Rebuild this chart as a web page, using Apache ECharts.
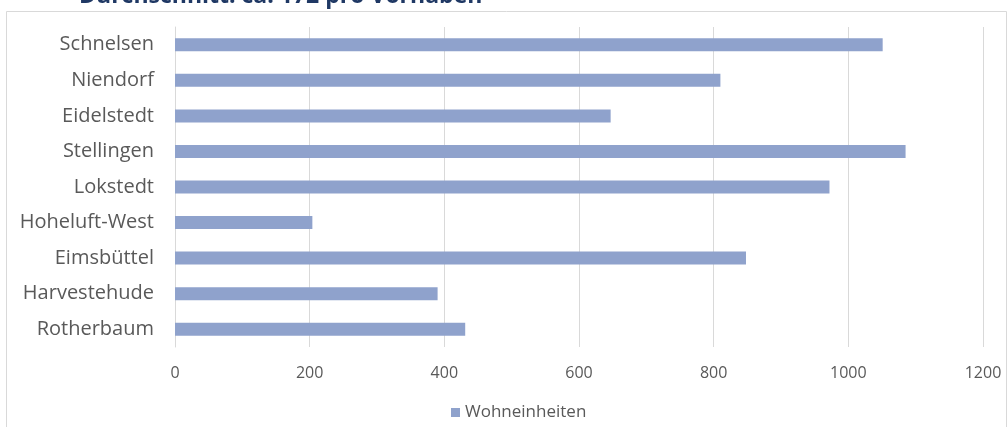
<!DOCTYPE html>
<html><head><meta charset="utf-8">
<script src="https://cdn.jsdelivr.net/npm/echarts@6/dist/echarts.min.js"></script>
<style>html,body{margin:0;padding:0;background:#fff}#c{width:1008px;height:427px}</style>
</head><body><div id="c"></div>
<script>
const titleText = "Durchschnitt: ca. 172 pro Vorhaben";
const categories = ["Schnelsen","Niendorf","Eidelstedt","Stellingen","Lokstedt","Hoheluft-West","Eimsbüttel","Harvestehude","Rotherbaum"];
const wohneinheiten = [1051, 810, 647, 1085, 972, 204, 848, 390, 431];
const seriesName = "Wohneinheiten";
const xTicks = [0, 200, 400, 600, 800, 1000, 1200];

const chart = echarts.init(document.getElementById('c'), null, {renderer:'canvas'});
chart.setOption({
  animation:false,
  backgroundColor:'#fff',
  title:{text:titleText, left:74, top:-20, textStyle:{color:'#1f3864', fontWeight:'bold', fontSize:23, fontFamily:'Open Sans'}},
  graphic:[{type:'rect', shape:{x:6.5,y:11.5,width:1000,height:430}, style:{fill:'none', stroke:'#d9d9d9', lineWidth:1}, silent:true}],
  grid:{left:175, right:25, top:27, bottom:80},
  legend:{data:[seriesName], top:399, left:446, icon:'rect', itemWidth:9, itemHeight:9, itemGap:7,
    textStyle:{color:'#595959', fontSize:17, fontFamily:'Open Sans'}},
  xAxis:{type:'value', min:xTicks[0], max:xTicks[xTicks.length-1], interval:200,
    axisLine:{show:false}, axisTick:{show:false},
    axisLabel:{color:'#595959', fontSize:16, margin:18, fontFamily:'Open Sans', formatter:v=>String(v)},
    splitLine:{lineStyle:{color:'#d9d9d9', width:1}}},
  yAxis:{type:'category', data:categories, inverse:true,
    axisLine:{show:true, lineStyle:{color:'#d9d9d9'}}, axisTick:{show:false},
    axisLabel:{color:'#595959', fontSize:20, margin:21, fontFamily:'Open Sans'}},
  series:[{name:seriesName, type:'bar', data:wohneinheiten, barWidth:13,
    itemStyle:{color:'#8fa2cc'}}]
});
</script></body></html>
